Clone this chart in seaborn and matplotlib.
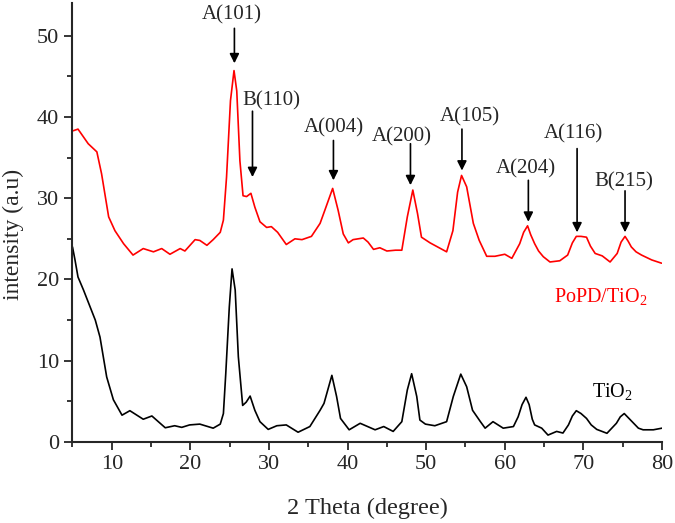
import pandas as pd
import matplotlib
matplotlib.use("Agg")
import matplotlib.pyplot as plt
import seaborn as sns
from matplotlib.ticker import MultipleLocator

# TiO2 pattern (black)
tio2_x = [5.0, 5.3, 5.7, 6.4, 7.9, 8.5, 9.35, 10.2, 11.3, 12.3, 14.0, 15.1, 16.8, 18.0, 18.9,
          19.9, 21.2, 22.9, 23.8, 24.2, 24.5, 24.95, 25.3, 25.7, 26.1, 26.65, 27.1, 27.6, 28.2,
          28.85, 29.9, 31.0, 32.2, 33.7, 35.2, 36.5, 37.0, 38.0, 38.6, 39.1, 40.2, 41.6, 43.5,
          44.6, 45.8, 46.9, 47.6, 48.15, 48.8, 49.2, 49.9, 51.1, 52.6, 53.45, 54.4, 55.15, 55.9,
          56.9, 57.5, 58.5, 59.8, 61.1, 61.7, 62.2, 62.7, 63.1, 63.5, 63.8, 64.7, 65.5, 66.6,
          67.4, 68.1, 68.6, 69.1, 69.7, 70.4, 71.0, 71.7, 73.0, 74.2, 74.7, 75.2, 75.7, 76.4,
          77.0, 77.6, 78.9, 80.0]
tio2_y = [24.0, 22.5, 20.3, 18.7, 15.0, 12.9, 8.0, 5.2, 3.3, 3.85, 2.8, 3.2, 1.75, 2.0, 1.8,
          2.1, 2.2, 1.7, 2.2, 3.5, 8.4, 16.6, 21.3, 18.7, 10.5, 4.5, 4.9, 5.65, 3.9,
          2.5, 1.55, 2.0, 2.1, 1.2, 1.9, 3.9, 4.75, 8.2, 5.6, 2.9, 1.5, 2.3, 1.5,
          1.9, 1.3, 2.5, 6.4, 8.4, 5.6, 2.7, 2.2, 2.0, 2.5, 5.6, 8.35, 6.8, 3.9,
          2.5, 1.7, 2.5, 1.7, 1.9, 3.1, 4.6, 5.5, 4.6, 2.8, 2.1, 1.7, 0.85, 1.3,
          1.1, 2.1, 3.2, 3.85, 3.5, 2.9, 2.1, 1.55, 1.07, 2.3, 3.1, 3.5, 3.0, 2.3,
          1.7, 1.5, 1.5, 1.7]

# PoPD/TiO2 pattern (red)
popd_x = [5.1, 5.7, 7.0, 8.1, 8.7, 9.6, 10.4, 11.5, 12.7, 14.0, 15.3, 16.35, 17.4, 18.7, 19.3,
          20.6, 21.2, 22.1, 22.9, 23.8, 24.2, 24.6, 25.1, 25.55, 25.9, 26.3, 26.7, 27.15, 27.7,
          28.2, 28.85, 29.7, 30.3, 31.1, 32.2, 33.3, 34.2, 35.4, 36.5, 37.1, 38.1, 38.8, 39.45,
          40.1, 40.7, 42.0, 42.6, 43.3, 44.1, 45.0, 46.1, 46.9, 47.6, 48.3, 48.9, 49.4, 50.5,
          52.6, 53.4, 54.0, 54.5, 55.15, 56.0, 56.75, 57.7, 58.75, 60.0, 60.9, 61.9, 62.4, 62.9,
          63.3, 63.8, 64.3, 64.9, 65.75, 67.0, 68.0, 68.6, 69.1, 69.7, 70.4, 70.9, 71.5, 72.4,
          73.4, 74.3, 74.8, 75.3, 75.7, 76.1, 76.7, 77.4, 78.7, 79.95]
popd_y = [38.3, 38.5, 36.7, 35.7, 33.0, 27.7, 26.0, 24.4, 23.0, 23.8, 23.4, 23.8, 23.1, 23.8, 23.5,
          24.9, 24.8, 24.2, 24.9, 25.8, 27.3, 32.6, 42.0, 45.7, 43.2, 34.6, 30.3, 30.2, 30.6,
          28.9, 27.1, 26.4, 26.5, 25.8, 24.3, 25.0, 24.9, 25.3, 26.9, 28.5, 31.2, 28.5, 25.6,
          24.5, 24.9, 25.1, 24.6, 23.7, 23.9, 23.5, 23.6, 23.6, 27.7, 31.0, 28.1, 25.2, 24.5,
          23.4, 26.0, 30.75, 32.8, 31.4, 26.9, 24.8, 22.85, 22.85, 23.1, 22.6, 24.4, 25.8, 26.6,
          25.5, 24.4, 23.5, 22.8, 22.15, 22.3, 23.0, 24.5, 25.3, 25.3, 25.2, 24.1, 23.2, 22.9,
          22.15, 23.2, 24.6, 25.3, 24.7, 24.0, 23.4, 23.0, 22.4, 22.0]

# peak labels: text position, arrow tail, arrow head
peak_labels = ["A(101)", "B(110)", "A(004)", "A(200)", "A(105)", "A(204)", "A(116)", "B(215)"]
label_x = [25.3, 30.3, 38.2, 46.9, 55.5, 62.7, 68.7, 75.1]
label_y = [52.6, 42.0, 38.7, 37.5, 40.0, 33.6, 37.9, 32.0]
arrow_x = [25.6, 27.9, 38.2, 48.0, 54.55, 63.0, 69.2, 75.3]
arrow_top = [50.9, 40.7, 37.1, 36.7, 38.5, 32.2, 36.1, 30.9]
arrow_tip = [46.6, 32.6, 32.2, 31.6, 33.4, 27.1, 25.8, 25.8]

df_tio2 = pd.DataFrame({"x": tio2_x, "y": tio2_y})
df_popd = pd.DataFrame({"x": popd_x, "y": popd_y})

sns.set_style("ticks")
plt.rcParams["font.family"] = ["Liberation Serif", "DejaVu Serif"]
plt.rcParams["mathtext.fontset"] = "custom"
plt.rcParams["mathtext.rm"] = "Liberation Serif"
plt.rcParams["mathtext.default"] = "regular"

fig = plt.figure(figsize=(6.75, 5.23), dpi=100)
ax = fig.add_axes([0.1074, 0.1549, 0.8733, 0.8391])

sns.lineplot(x="x", y="y", data=df_tio2, color="black", linewidth=1.2, ax=ax)
sns.lineplot(x="x", y="y", data=df_popd, color="red", linewidth=1.2, ax=ax)
for ln in ax.lines:
    ln.set_solid_joinstyle("round")

for lab, tx, ty, axx, a0, a1 in zip(peak_labels, label_x, label_y, arrow_x, arrow_top, arrow_tip):
    ax.text(tx, ty, lab, ha="center", va="center", fontsize=15)
    ax.annotate("", xy=(axx, a1), xytext=(axx, a0),
                arrowprops=dict(arrowstyle="-|>", color="black", lw=1.2,
                                mutation_scale=14, shrinkA=0, shrinkB=0))

ax.text(72.2, 17.85, "PoPD/TiO$_2$", color="red", ha="center", va="center", fontsize=14.5)
ax.text(73.7, 6.2, "TiO$_2$", color="black", ha="center", va="center", fontsize=14.5)

ax.set_xlim(5, 80)
ax.set_ylim(0, 54)
ax.xaxis.set_major_locator(MultipleLocator(10))
ax.xaxis.set_minor_locator(MultipleLocator(5))
ax.yaxis.set_major_locator(MultipleLocator(10))
ax.yaxis.set_minor_locator(MultipleLocator(5))
ax.tick_params(which="major", direction="out", length=6, width=1.3, labelsize=16)
ax.tick_params(which="minor", direction="out", length=3.5, width=1.3)
ax.set_xlabel("2 Theta (degree)", fontsize=17.5)
ax.set_ylabel("intensity (a.u)", fontsize=17)
ax.xaxis.set_label_coords(0.5, -0.128)
ax.yaxis.set_label_coords(-0.082, 0.474)
sns.despine(ax=ax)
for s in ["left", "bottom"]:
    ax.spines[s].set_linewidth(1.5)

fig.savefig("out.png", dpi=100)
